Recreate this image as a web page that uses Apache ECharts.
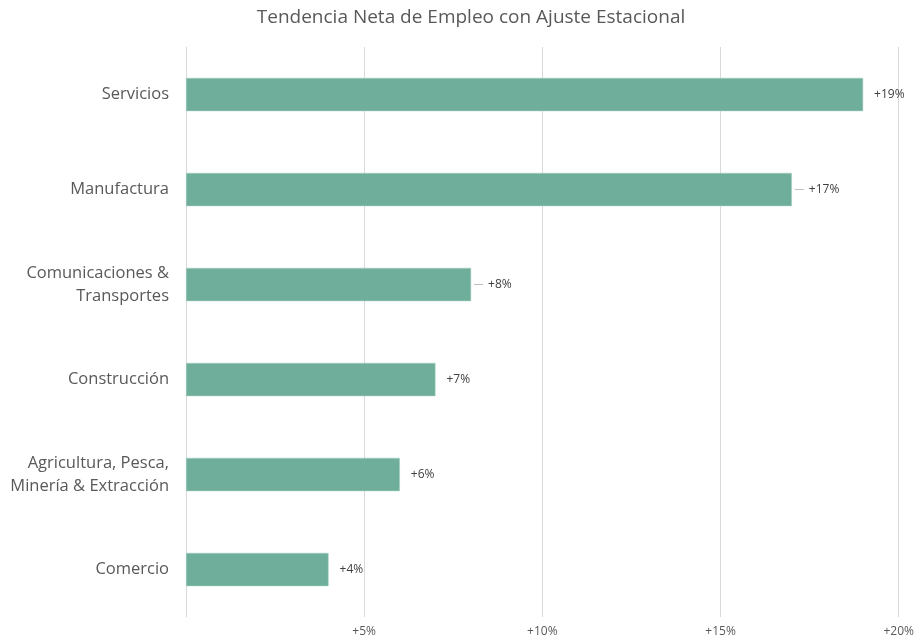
<!DOCTYPE html>
<html>
<head>
<meta charset="utf-8">
<script src="https://cdn.jsdelivr.net/npm/echarts@6/dist/echarts.min.js"></script>
<style>html,body{margin:0;padding:0;background:#fff}#c{width:917px;height:644px}</style>
</head>
<body>
<div id="c"></div>
<script>
const titleText = 'Tendencia Neta de Empleo con Ajuste Estacional';
const categories = ['Servicios', 'Manufactura', 'Comunicaciones &\nTransportes', 'Construcción', 'Agricultura, Pesca,\nMinería & Extracción', 'Comercio'];
const values = [19, 17, 8, 7, 6, 4];
const leaderLine = [false, true, true, false, false, false];
const xTicks = [0, 5, 10, 15, 20];

const font = '"Open Sans", sans-serif';
const chart = echarts.init(document.getElementById('c'));
chart.setOption({
  animation: false,
  title: {
    text: titleText,
    left: 466, top: 3, textAlign: 'center',
    textStyle: { fontFamily: font, fontSize: 19, fontWeight: 'normal', color: '#595959' }
  },
  grid: { left: 186, right: 16, top: 47, bottom: 27, containLabel: false },
  xAxis: {
    type: 'value', min: xTicks[0], max: xTicks[xTicks.length - 1], interval: 5,
    axisLine: { show: false }, axisTick: { show: false },
    splitLine: { lineStyle: { color: '#d9d9d9', width: 1 } },
    axisLabel: {
      margin: 9, fontFamily: font, fontSize: 12, color: '#595959',
      formatter: v => (v === 0 ? '' : '+' + v + '%')
    }
  },
  yAxis: {
    type: 'category', data: categories, inverse: true,
    axisLine: { show: true, lineStyle: { color: '#d9d9d9' } },
    axisTick: { show: false },
    axisLabel: { margin: 17, fontFamily: font, fontSize: 16.5, color: '#595959', lineHeight: 23, align: 'right' }
  },
  series: [{
    type: 'bar', data: values, barCategoryGap: '65%',
    itemStyle: { color: '#6fae9b', borderColor: '#a9d0c3', borderWidth: 0.5 },
    label: {
      show: true, position: 'right', distance: 3,
      formatter: p => (leaderLine[p.dataIndex] ? '{ln|}{sp|}' : '{sp2|}') + '{t|+' + p.value + '%}',
      rich: {
        ln: { width: 9, height: 1, backgroundColor: '#bfbfbf' },
        sp: { width: 5 },
        sp2: { width: 8 },
        t: { fontFamily: font, fontSize: 12, color: '#404040' }
      }
    }
  }]
});
</script>
</body>
</html>
